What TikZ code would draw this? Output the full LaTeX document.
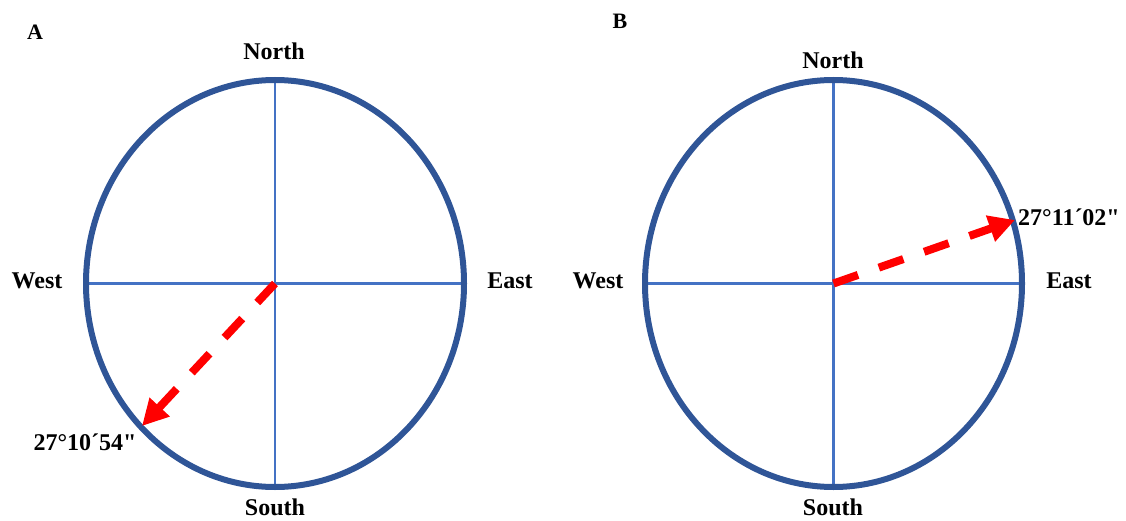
\documentclass[tikz,border=0pt]{standalone}
\usepackage{fontspec}
\setmainfont{Liberation Serif}[Ligatures=TeXOff]
\usetikzlibrary{arrows.meta}
\definecolor{ringblue}{RGB}{47,85,151}
\definecolor{lineblue}{RGB}{68,114,196}
\definecolor{arrred}{RGB}{255,0,0}
\tikzset{
  ring/.style={draw=ringblue, line width=6pt},
  cross/.style={draw=lineblue, line width=2.5pt},
  dir/.style={draw=arrred, line width=8pt, dash pattern=on 26pt off 22pt,
    -{Triangle[length=26pt,width=26pt,fill=arrred]}},
  lbl/.style={inner sep=0pt, font=\fontsize{24}{28}\selectfont\bfseries},
  plbl/.style={inner sep=0pt, font=\fontsize{22}{26}\selectfont\bfseries}
}
\begin{document}
\begin{tikzpicture}[x=1pt,y=-1pt]
\useasboundingbox (0,0) rectangle (1126,521);
% ---- Panel A ----
\coordinate (cA) at (275,283.5);
\coordinate (nA) at (275,80);
\coordinate (sA) at (275,487);
\coordinate (wA) at (87,283.5);
\coordinate (eA) at (465,283.5);
\coordinate (tA) at (142,426);
\draw[cross] (nA) -- (sA);
\draw[cross] (wA) -- (eA);
\draw[ring] (cA) ellipse [x radius=189pt, y radius=203.5pt];
\draw[dir] (cA) -- (tA);
\node[plbl] (labA) at (35,32) {A};
\node[lbl] (northA) at (274,51) {North};
\node[lbl] (southA) at (275,507) {South};
\node[lbl] (westA) at (37,281) {West};
\node[lbl] (eastA) at (510,281) {East};
\node[lbl] (angA) at (85,442) {27°10´54"};
% ---- Panel B ----
\coordinate (cB) at (833.5,283.5);
\coordinate (nB) at (833.5,80);
\coordinate (sB) at (833.5,487);
\coordinate (wB) at (645,283.5);
\coordinate (eB) at (1022,283.5);
\coordinate (tB) at (1015,220);
\draw[cross] (nB) -- (sB);
\draw[cross] (wB) -- (eB);
\draw[ring] (cB) ellipse [x radius=188.5pt, y radius=203.5pt];
\draw[dir] (cB) -- (tB);
\node[plbl] (labB) at (620,21) {B};
\node[lbl] (northB) at (833,60) {North};
\node[lbl] (southB) at (833,507) {South};
\node[lbl] (westB) at (598,281) {West};
\node[lbl] (eastB) at (1069,281) {East};
\node[lbl] (angB) at (1069,217) {27°11´02"};
\end{tikzpicture}
\end{document}
